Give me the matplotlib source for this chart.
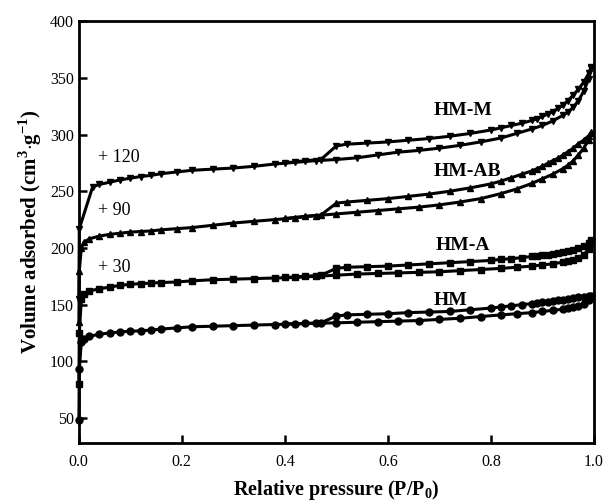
import numpy as np
import matplotlib
matplotlib.use("Agg")
from matplotlib import pyplot as plt

plt.rcParams['font.family'] = ['Liberation Serif', 'DejaVu Serif']
plt.rcParams['mathtext.fontset'] = 'custom'
plt.rcParams['mathtext.rm'] = 'Liberation Serif'
plt.rcParams['mathtext.bf'] = 'Liberation Serif:bold'

# relative pressure points (adsorption / desorption branches)
p_ads = [0.0002, 0.001, 0.005, 0.01, 0.02, 0.04, 0.06, 0.08, 0.10, 0.12, 0.14, 0.16,
         0.19, 0.22, 0.26, 0.30, 0.34, 0.38, 0.42, 0.46, 0.50, 0.54, 0.58, 0.62,
         0.66, 0.70, 0.74, 0.78, 0.82, 0.85, 0.88, 0.90, 0.92, 0.94, 0.95, 0.96,
         0.97, 0.98, 0.99, 0.995]
p_ads_m = [0.0002, 0.001, 0.027, 0.04, 0.06, 0.08, 0.10, 0.12, 0.14, 0.16,
           0.19, 0.22, 0.26, 0.30, 0.34, 0.38, 0.42, 0.46, 0.50, 0.54, 0.58, 0.62,
           0.66, 0.70, 0.74, 0.78, 0.82, 0.85, 0.88, 0.90, 0.92, 0.94, 0.95, 0.96,
           0.97, 0.98, 0.99, 0.995]
p_des = [0.995, 0.99, 0.98, 0.97, 0.96, 0.95, 0.94, 0.93, 0.92, 0.91, 0.90, 0.89,
         0.88, 0.86, 0.84, 0.82, 0.80, 0.76, 0.72, 0.68, 0.64, 0.60, 0.56, 0.52,
         0.50, 0.47, 0.44, 0.40]

# HM (no offset)
hm_ads = [48, 93, 117, 120, 122, 124, 125, 126, 126.5, 127, 127.5, 128.5,
          129.5, 130.5, 131, 131.5, 132, 132.5, 133, 133.5, 134, 134.5, 135, 135.5,
          136, 137, 138, 139.5, 141, 142, 143, 144, 145, 146, 147, 148,
          149, 151, 154, 157]
hm_des = [158, 157.5, 157, 156.5, 156, 155, 154.5, 154, 153, 152.5, 152, 151.5,
          151, 150, 149, 148, 147, 145.5, 144, 143.5, 143, 142, 141.5, 141,
          140, 134, 133.5, 133]

# HM-A (+30)
hma_ads = [80, 125, 155, 159, 162, 164, 165.5, 167, 168, 168.5, 169, 169.5,
           170, 171, 172, 172.5, 173, 173.5, 174, 175, 176, 177, 177.5, 178,
           178.5, 179, 180, 181, 182, 183, 184, 185, 186, 187.5, 188.5, 189.5,
           191, 194, 199, 206]
hma_des = [207, 204, 202, 200, 198.5, 197.5, 196.5, 195.5, 195, 194, 193.5, 193,
           192.5, 191.5, 190.5, 190, 189, 188, 187, 186, 185, 184, 183.5, 183,
           182, 176, 175, 174]

# HM-AB (+90)
hmab_ads = [135, 180, 200, 205, 208, 210.5, 212, 213, 214, 214.5, 215, 216,
            217, 218, 220, 222, 223.5, 225, 226.5, 228.5, 230, 231.5, 233, 234.5,
            236, 238, 240.5, 243.5, 248, 252, 257, 261, 265, 270, 273, 277,
            282, 288, 295, 301]
hmab_des = [302, 299, 295, 292, 288, 285, 282, 279, 277, 274.5, 272, 270,
            268, 265, 262, 259, 256.5, 253, 250, 247.5, 245.5, 243.5, 242, 240.5,
            239.5, 229, 228, 226]

# HM-M (+120)
hmm_ads = [155, 217, 254, 256, 258, 260, 261.5, 263, 264, 265.5,
           267, 268.5, 269.5, 270.5, 272, 274, 275.5, 277, 278, 279.5, 282, 284.5,
           286, 288, 290.5, 293.5, 297, 301, 305, 308, 312, 317, 320, 324,
           330, 338, 349, 359]
hmm_des = [360, 354, 346, 340, 335, 330, 326, 323, 320, 318, 316, 314,
           312.5, 310, 308, 306, 304, 301, 298.5, 296.5, 295, 293.5, 292.5, 291.5,
           290, 278, 277, 275]

series = [
    ('HM', 'o', p_ads, hm_ads, hm_des, 0.688, 154),
    ('HM-A', 's', p_ads, hma_ads, hma_des, 0.692, 202.5),
    ('HM-AB', '^', p_ads, hmab_ads, hmab_des, 0.688, 267),
    ('HM-M', 'v', p_ads_m, hmm_ads, hmm_des, 0.688, 321.5),
]
offsets = ['+ 30', '+ 90', '+ 120']
offset_y = [183, 233, 280]

fig = plt.figure(figsize=(6.06, 5.04), dpi=100)
ax = fig.add_axes([0.130, 0.121, 0.850, 0.837])

for name, mk, pa, ads, des, tx, ty in series:
    ax.plot(pa, ads, color='k', marker=mk, markersize=5, linewidth=2.2, clip_on=False)
    ax.plot(p_des, des, color='k', marker=mk, markersize=5, linewidth=2.2, clip_on=False)
    ax.text(tx, ty, name, fontsize=14, fontweight='bold', va='center', ha='left')

for lab, y in zip(offsets, offset_y):
    ax.text(0.038, y, lab, fontsize=13, va='center', ha='left')

ax.set_xlim(0, 1.0)
ax.set_ylim(28, 400)
ax.set_xticks(np.arange(0, 1.01, 0.2))
ax.set_xticklabels(['0.0', '0.2', '0.4', '0.6', '0.8', '1.0'])
ax.set_yticks(np.arange(50, 401, 50))
ax.tick_params(direction='in', length=6, width=1.8, labelsize=11.5, top=False, right=False)
ax.tick_params(axis='x', pad=8)
for sp in ax.spines.values():
    sp.set_linewidth(2)

ax.set_xlabel(r'Relative pressure (P/P$_\mathbf{0}$)', fontsize=14.5, fontweight='bold', labelpad=6)
ax.set_ylabel(r'Volume adsorbed (cm$^\mathbf{3}$$\cdot$g$^\mathbf{-1}$)', fontsize=15, fontweight='bold', labelpad=4)

fig.savefig('out.png', dpi=100)
